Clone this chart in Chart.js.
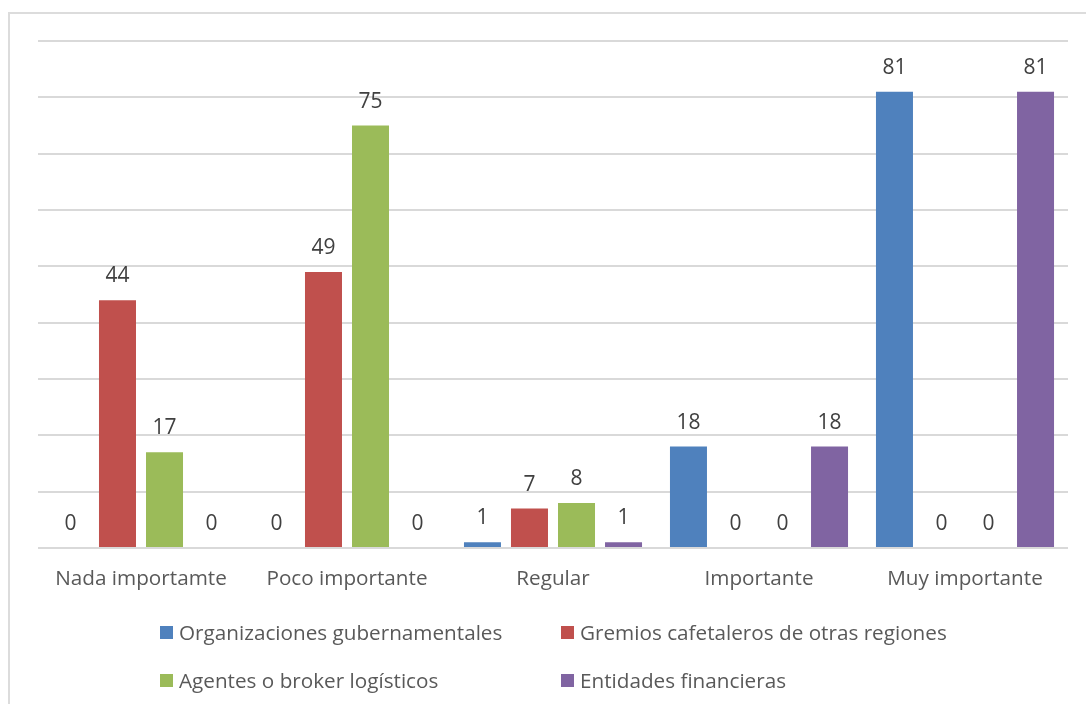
<!DOCTYPE html>
<html>
<head>
<meta charset="utf-8">
<script src="https://cdn.jsdelivr.net/npm/chart.js@4/dist/chart.umd.min.js"></script>
<style>
  html, body { margin: 0; padding: 0; background: #fff; }
  body { width: 1086px; height: 704px; position: relative; overflow: hidden; font-family: "Open Sans", sans-serif; }
  #frame { position: absolute; left: 8px; top: 12px; width: 1100px; height: 720px; border-left: 2px solid #dcdcdc; border-top: 2px solid #dcdcdc; }
  #wrap { position: absolute; left: 0; top: 0; width: 1086px; height: 704px; }
  #legend { position: absolute; left: 160px; top: 617px; display: grid; grid-template-columns: 401px auto; row-gap: 18px; color: #595959; font-size: 20.7px; }
  .item { display: flex; align-items: center; height: 30px; white-space: nowrap; }
  .box { width: 13px; height: 13px; margin-right: 6px; flex: none; }
</style>
</head>
<body>
<div id="frame"></div>
<div id="wrap"><canvas id="barChart"></canvas></div>
<div id="legend"></div>
<script>
const categories = ['Nada importamte', 'Poco importante', 'Regular', 'Importante', 'Muy importante'];
const seriesNames = ['Organizaciones gubernamentales', 'Gremios cafetaleros de otras regiones', 'Agentes o broker logísticos', 'Entidades financieras'];
const gubernamentales = [0, 0, 1, 18, 81];
const gremios = [44, 49, 7, 0, 0];
const agentes = [17, 75, 8, 0, 0];
const financieras = [0, 0, 1, 18, 81];
const colors = ['#4F81BD', '#C0504D', '#9BBB59', '#8064A2'];

const seriesValues = [gubernamentales, gremios, agentes, financieras];

// values written above each bar
const barLabels = {
    id: 'barLabels',
    afterDatasetsDraw(chart) {
        const ctx = chart.ctx;
        ctx.save();
        ctx.font = '21px "Open Sans"';
        ctx.fillStyle = '#404040';
        ctx.textAlign = 'center';
        ctx.textBaseline = 'alphabetic';
        chart.data.datasets.forEach((ds, i) => {
            chart.getDatasetMeta(i).data.forEach((bar, j) => {
                ctx.fillText(String(ds.data[j]), bar.x, bar.y - 18);
            });
        });
        ctx.restore();
    }
};

const ctx = document.getElementById('barChart').getContext('2d');
new Chart(ctx, {
    type: 'bar',
    data: {
        labels: categories,
        datasets: seriesValues.map((vals, i) => ({
            label: seriesNames[i],
            data: vals,
            backgroundColor: colors[i],
            categoryPercentage: 0.913,
            barPercentage: 0.787
        }))
    },
    options: {
        responsive: true,
        maintainAspectRatio: false,
        animation: false,
        layout: { padding: { left: 38, right: 18, top: 41, bottom: 106 } },
        plugins: {
            legend: { display: false },
            tooltip: { enabled: false }
        },
        scales: {
            x: {
                grid: { display: false, drawTicks: false },
                border: { display: false },
                ticks: { color: '#595959', font: { family: 'Open Sans', size: 20.7 }, padding: 19, maxRotation: 0 },
                afterFit(scale) { scale.height = 50; }
            },
            y: {
                min: 0,
                max: 90,
                ticks: { display: false, stepSize: 10 },
                grid: { color: '#d9d9d9', lineWidth: 2, drawTicks: false },
                border: { display: false },
                afterFit(scale) { scale.width = 0; }
            }
        }
    },
    plugins: [barLabels]
});

// two-column legend below the plot
const legend = document.getElementById('legend');
seriesNames.forEach((name, i) => {
    const item = document.createElement('div');
    item.className = 'item';
    const box = document.createElement('span');
    box.className = 'box';
    box.style.background = colors[i];
    const txt = document.createElement('span');
    txt.textContent = name;
    item.appendChild(box);
    item.appendChild(txt);
    legend.appendChild(item);
});
</script>
</body>
</html>
